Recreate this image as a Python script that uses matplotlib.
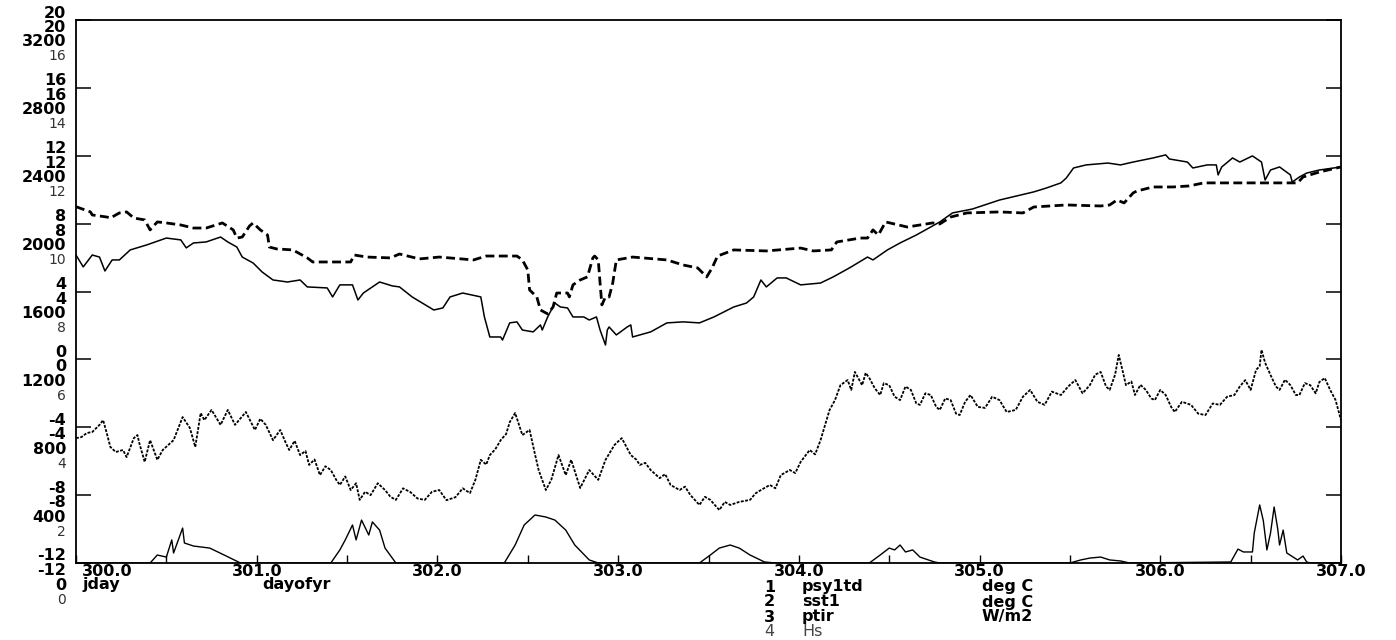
import matplotlib.pyplot as plt
from matplotlib import transforms

plt.rcParams['font.family'] = ['DejaVu Sans']

# psy1td (deg C)
psy_day = [300.00, 300.04, 300.09, 300.13, 300.16, 300.20, 300.24, 300.30, 300.39, 300.50,
           300.58, 300.61, 300.65, 300.72, 300.80, 300.84, 300.89, 300.92, 300.98, 301.03,
           301.09, 301.17, 301.24, 301.28, 301.39, 301.42, 301.46, 301.53, 301.56, 301.59,
           301.68, 301.75, 301.79, 301.86, 301.98, 302.03, 302.07, 302.14, 302.24, 302.26,
           302.29, 302.35, 302.36, 302.40, 302.44, 302.47, 302.53, 302.57, 302.58, 302.61,
           302.65, 302.68, 302.72, 302.75, 302.81, 302.84, 302.88, 302.90, 302.93, 302.94,
           302.95, 302.99, 303.05, 303.07, 303.08, 303.18, 303.27, 303.36, 303.45, 303.53,
           303.64, 303.71, 303.75, 303.79, 303.82, 303.88, 303.93, 304.01, 304.12, 304.19,
           304.28, 304.38, 304.41, 304.49, 304.56, 304.65, 304.78, 304.85, 304.96, 305.11,
           305.30, 305.37, 305.45, 305.48, 305.52, 305.59, 305.71, 305.78, 305.85, 305.96,
           306.03, 306.05, 306.15, 306.18, 306.26, 306.31, 306.32, 306.34, 306.40, 306.44,
           306.51, 306.56, 306.58, 306.61, 306.66, 306.72, 306.73, 306.77, 306.81, 306.88,
           307.00]
psy_val = [6.15, 5.45, 6.15, 6.03, 5.21, 5.86, 5.86, 6.45, 6.74, 7.15,
           7.04, 6.57, 6.86, 6.92, 7.21, 6.92, 6.62, 6.03, 5.68, 5.15,
           4.68, 4.56, 4.68, 4.27, 4.21, 3.68, 4.39, 4.39, 3.50, 3.91,
           4.56, 4.33, 4.27, 3.68, 2.91, 3.03, 3.68, 3.91, 3.68, 2.50,
           1.32, 1.32, 1.14, 2.15, 2.21, 1.73, 1.62, 2.03, 1.73, 2.50,
           3.32, 3.09, 3.03, 2.50, 2.50, 2.32, 2.50, 1.73, 0.85, 1.73,
           1.91, 1.44, 1.91, 2.03, 1.32, 1.62, 2.15, 2.21, 2.15, 2.50,
           3.09, 3.32, 3.68, 4.68, 4.27, 4.80, 4.80, 4.39, 4.50, 4.86,
           5.39, 6.03, 5.86, 6.45, 6.86, 7.33, 8.10, 8.63, 8.86, 9.39,
           9.87, 10.10, 10.40, 10.69, 11.28, 11.46, 11.57, 11.46, 11.63, 11.87,
           12.05, 11.81, 11.63, 11.28, 11.46, 11.46, 10.87, 11.34, 11.87, 11.63,
           11.99, 11.63, 10.57, 11.16, 11.34, 10.87, 10.45, 10.75, 10.98, 11.16,
           11.34]

# sst1 (deg C)
sst_day = [300.00, 300.02, 300.08, 300.09, 300.17, 300.19, 300.24, 300.28, 300.32, 300.38,
           300.41, 300.45, 300.50, 300.58, 300.65, 300.72, 300.81, 300.87, 300.89, 300.92,
           300.96, 300.98, 301.02, 301.06, 301.07, 301.11, 301.20, 301.28, 301.31, 301.42,
           301.52, 301.54, 301.61, 301.74, 301.79, 301.90, 302.01, 302.20, 302.27, 302.44,
           302.47, 302.50, 302.51, 302.55, 302.57, 302.61, 302.64, 302.66, 302.72, 302.73,
           302.75, 302.79, 302.83, 302.86, 302.87, 302.89, 302.90, 302.91, 302.93, 302.95,
           302.97, 302.99, 303.08, 303.27, 303.36, 303.44, 303.49, 303.52, 303.55, 303.64,
           303.82, 304.01, 304.08, 304.18, 304.21, 304.34, 304.38, 304.41, 304.44, 304.48,
           304.60, 304.74, 304.78, 304.84, 304.93, 305.11, 305.24, 305.30, 305.48, 305.67,
           305.72, 305.76, 305.80, 305.85, 305.87, 305.96, 306.07, 306.16, 306.24, 306.40,
           306.59, 306.76, 306.79, 306.88, 307.00]
sst_val = [9.00, 8.92, 8.69, 8.51, 8.39, 8.33, 8.63, 8.69, 8.33, 8.22,
           7.63, 8.10, 8.04, 7.92, 7.74, 7.74, 8.04, 7.63, 7.15, 7.21,
           7.86, 8.04, 7.63, 7.33, 6.62, 6.51, 6.45, 5.98, 5.74, 5.74,
           5.74, 6.15, 6.03, 5.98, 6.21, 5.92, 6.03, 5.86, 6.09, 6.09,
           5.86, 5.27, 4.09, 3.68, 2.91, 2.68, 3.09, 3.91, 3.91, 3.68,
           4.39, 4.68, 4.86, 5.98, 6.09, 5.86, 4.50, 3.21, 3.68, 3.68,
           4.50, 5.86, 6.03, 5.86, 5.56, 5.39, 4.86, 5.39, 6.09, 6.45,
           6.39, 6.56, 6.39, 6.45, 6.92, 7.15, 7.15, 7.63, 7.33, 8.10,
           7.80, 8.04, 7.98, 8.39, 8.63, 8.69, 8.63, 8.98, 9.10, 9.04,
           9.10, 9.39, 9.22, 9.81, 9.92, 10.16, 10.16, 10.22, 10.40, 10.40,
           10.40, 10.40, 10.75, 11.04, 11.34]

# ptir (W/m2)
ptir_day = [300.00, 300.41, 300.45, 300.50, 300.53, 300.54, 300.59, 300.60, 300.65, 300.74,
            300.82, 300.91, 301.41, 301.46, 301.49, 301.53, 301.55, 301.58, 301.62, 301.64,
            301.68, 301.71, 301.77, 302.37, 302.43, 302.48, 302.54, 302.60, 302.65, 302.71,
            302.76, 302.84, 302.89, 303.45, 303.51, 303.56, 303.62, 303.67, 303.73, 303.81,
            303.87, 304.39, 304.45, 304.50, 304.53, 304.56, 304.59, 304.63, 304.67, 304.75,
            304.78, 305.50, 305.56, 305.61, 305.67, 305.72, 305.78, 305.83, 306.39, 306.43,
            306.46, 306.51, 306.52, 306.55, 306.57, 306.59, 306.61, 306.63, 306.65, 306.66,
            306.68, 306.70, 306.76, 306.79, 306.81, 306.83, 307.00]
ptir_val = [0, 0, 47, 35, 136, 59, 206, 118, 100, 88,
            47, 0, 0, 77, 136, 224, 136, 253, 165, 242,
            194, 88, 0, 0, 106, 224, 283, 271, 253, 194,
            106, 18, 0, 0, 47, 88, 106, 88, 47, 6,
            0, 0, 47, 88, 77, 106, 65, 77, 35, 6,
            0, 0, 18, 29, 35, 18, 12, 0, 6, 82,
            65, 65, 177, 342, 250, 77, 177, 330, 200, 106,
            194, 59, 18, 41, 6, 0, 0]

# Hs (m)
hs_day = [300.00, 300.03, 300.06, 300.09, 300.13, 300.15, 300.17, 300.19, 300.22, 300.26,
          300.28, 300.32, 300.34, 300.35, 300.38, 300.41, 300.45, 300.48, 300.54, 300.59,
          300.63, 300.66, 300.69, 300.71, 300.75, 300.80, 300.84, 300.88, 300.94, 300.99,
          301.02, 301.05, 301.09, 301.13, 301.16, 301.18, 301.21, 301.24, 301.27, 301.29,
          301.32, 301.35, 301.38, 301.41, 301.44, 301.46, 301.49, 301.52, 301.55, 301.57,
          301.60, 301.63, 301.67, 301.71, 301.74, 301.77, 301.81, 301.85, 301.89, 301.93,
          301.97, 302.01, 302.05, 302.10, 302.14, 302.18, 302.21, 302.24, 302.27, 302.29,
          302.32, 302.35, 302.38, 302.40, 302.43, 302.47, 302.51, 302.54, 302.56, 302.60,
          302.63, 302.67, 302.71, 302.74, 302.79, 302.84, 302.89, 302.93, 302.98, 303.02,
          303.07, 303.10, 303.12, 303.15, 303.18, 303.23, 303.26, 303.29, 303.34, 303.37,
          303.40, 303.45, 303.48, 303.51, 303.56, 303.59, 303.62, 303.67, 303.73, 303.76,
          303.79, 303.84, 303.87, 303.90, 303.95, 303.98, 304.01, 304.06, 304.09, 304.12,
          304.17, 304.20, 304.23, 304.27, 304.29, 304.31, 304.35, 304.37, 304.39, 304.42,
          304.45, 304.47, 304.50, 304.53, 304.56, 304.59, 304.62, 304.65, 304.67, 304.70,
          304.73, 304.76, 304.78, 304.81, 304.84, 304.87, 304.89, 304.92, 304.95, 304.99,
          305.03, 305.07, 305.11, 305.15, 305.20, 305.24, 305.28, 305.32, 305.36, 305.40,
          305.45, 305.49, 305.53, 305.57, 305.61, 305.64, 305.67, 305.70, 305.72, 305.75,
          305.77, 305.79, 305.81, 305.84, 305.86, 305.89, 305.92, 305.95, 305.97, 306.00,
          306.03, 306.06, 306.08, 306.12, 306.17, 306.21, 306.25, 306.29, 306.33, 306.37,
          306.41, 306.44, 306.47, 306.50, 306.53, 306.55, 306.56, 306.58, 306.61, 306.64,
          306.66, 306.69, 306.72, 306.75, 306.77, 306.80, 306.83, 306.86, 306.88, 306.91,
          306.94, 306.97, 307.00]
hs_val = [3.68, 3.71, 3.83, 3.86, 4.07, 4.21, 3.83, 3.42, 3.27, 3.33,
          3.12, 3.68, 3.77, 3.54, 2.98, 3.62, 3.04, 3.33, 3.62, 4.30,
          3.98, 3.42, 4.42, 4.21, 4.51, 4.07, 4.51, 4.07, 4.45, 3.92,
          4.25, 4.07, 3.62, 3.92, 3.55, 3.33, 3.60, 3.18, 3.30, 2.89,
          3.05, 2.59, 2.85, 2.74, 2.45, 2.30, 2.55, 2.15, 2.35, 1.86,
          2.10, 2.00, 2.35, 2.15, 1.95, 1.86, 2.20, 2.09, 1.90, 1.86,
          2.10, 2.15, 1.85, 1.94, 2.20, 2.06, 2.45, 3.04, 2.90, 3.18,
          3.35, 3.62, 3.80, 4.15, 4.42, 3.77, 3.92, 3.20, 2.74, 2.15,
          2.45, 3.18, 2.59, 3.04, 2.21, 2.74, 2.45, 3.04, 3.48, 3.68,
          3.18, 3.05, 2.89, 2.95, 2.74, 2.50, 2.62, 2.30, 2.15, 2.25,
          2.00, 1.71, 1.95, 1.86, 1.56, 1.80, 1.71, 1.80, 1.86, 2.05,
          2.15, 2.30, 2.20, 2.59, 2.74, 2.65, 2.98, 3.33, 3.20, 3.62,
          4.51, 4.80, 5.24, 5.39, 5.10, 5.63, 5.24, 5.60, 5.45, 5.15,
          4.95, 5.30, 5.24, 4.90, 4.80, 5.20, 5.10, 4.70, 4.66, 5.00,
          4.95, 4.60, 4.51, 4.85, 4.80, 4.40, 4.36, 4.75, 4.95, 4.60,
          4.57, 4.90, 4.80, 4.45, 4.51, 4.90, 5.10, 4.75, 4.66, 5.05,
          4.95, 5.20, 5.39, 5.00, 5.24, 5.55, 5.63, 5.20, 5.10, 5.55,
          6.13, 5.70, 5.24, 5.35, 4.95, 5.25, 5.10, 4.85, 4.80, 5.10,
          4.95, 4.60, 4.45, 4.75, 4.66, 4.40, 4.36, 4.70, 4.66, 4.90,
          4.95, 5.20, 5.39, 5.10, 5.69, 5.80, 6.28, 5.90, 5.54, 5.20,
          5.10, 5.40, 5.24, 4.95, 4.95, 5.30, 5.24, 5.00, 5.33, 5.45,
          5.10, 4.80, 4.21]

# stacked axis labels: temperature scales, ptir scale, Hs scale
temp_ticks = [20, 16, 12, 8, 4, 0, -4, -8, -12]
ptir_ticks = [3200, 2800, 2400, 2000, 1600, 1200, 800, 400, 0]
hs_ticks = [16, 14, 12, 10, 8, 6, 4, 2, 0]
day_ticks = [300, 301, 302, 303, 304, 305, 306, 307]

legend_num = ['1', '2', '3', '4']
legend_name = ['psy1td', 'sst1', 'ptir', 'Hs']
legend_unit = ['deg C', 'deg C', 'W/m2', '']

fig = plt.figure(figsize=(13.96, 6.4), dpi=100)
ax = fig.add_axes([76 / 1396, 1 - 563 / 640, 1265 / 1396, 543 / 640])
ax.set_xlim(300, 307)
ax.set_ylim(-12, 20)

ax_ir = ax.twinx()
ax_ir.set_ylim(0, 3200)
ax_ir.axis('off')
ax_hs = ax.twinx()
ax_hs.set_ylim(0, 16)
ax_hs.axis('off')

ax.plot(psy_day, psy_val, color='black', lw=1.1, solid_joinstyle='round')
ax.plot(sst_day, sst_val, color='black', lw=2.0, dashes=(3.2, 1.6))
ax_ir.plot(ptir_day, ptir_val, color='black', lw=1.0)
ax_hs.plot(hs_day, hs_val, color='black', lw=1.3, dashes=(1.6, 0.8))

for s in ax.spines.values():
    s.set_linewidth(1.3)
ax.set_yticks(temp_ticks)
ax.set_xticks([300 + 0.5 * i for i in range(15)])
ax.tick_params(axis='y', direction='in', length=11, width=1.1,
               left=True, right=True, labelleft=False, labelright=False)
ax.tick_params(axis='x', direction='in', length=6, width=1.0, labelbottom=False)

fs = 11.5
txt = dict(fontsize=fs, fontweight='bold', color='black')

# four stacked labels at every left tick
yt = transforms.blended_transform_factory(fig.transFigure, ax.transData)
offsets = [7, -7.5, -22, -36.5]
for i, t in enumerate(temp_ticks):
    cols = [str(t), str(t), str(ptir_ticks[i]), str(hs_ticks[i])]
    for k, label in enumerate(cols):
        tr = transforms.offset_copy(yt, fig=fig, x=0, y=offsets[k], units='dots')
        style = dict(txt)
        if k == 3:
            style.update(fontsize=fs - 1.5, fontweight='normal', color='#333333')
        ax.text(66 / 1396, t, label, transform=tr, ha='right', va='center', **style)

# day labels under the axis
xt = transforms.blended_transform_factory(ax.transData, fig.transFigure)
for d in day_ticks:
    if d == day_ticks[0]:
        tr = transforms.offset_copy(xt, fig=fig, x=6, y=0, units='dots')
        ax.text(d, 1 - 572 / 640, f'{d:.1f}', transform=tr, ha='left', va='center', **txt)
    else:
        ax.text(d, 1 - 572 / 640, f'{d:.1f}', transform=xt, ha='center', va='center', **txt)

fig.text(82 / 1396, 1 - 585 / 640, 'jday', ha='left', va='center', **txt)
fig.text(262 / 1396, 1 - 585 / 640, 'dayofyr', ha='left', va='center', **txt)

# series key
rows = [587, 602, 617, 631]
for i in range(4):
    style = dict(txt)
    if i == 3:
        style.update(fontweight='normal', color='#444444')
    y = 1 - rows[i] / 640
    fig.text(764 / 1396, y, legend_num[i], ha='left', va='center', **style)
    fig.text(802 / 1396, y, legend_name[i], ha='left', va='center', **style)
    if legend_unit[i]:
        fig.text(982 / 1396, y, legend_unit[i], ha='left', va='center', **style)

fig.savefig('out.png', dpi=100)
